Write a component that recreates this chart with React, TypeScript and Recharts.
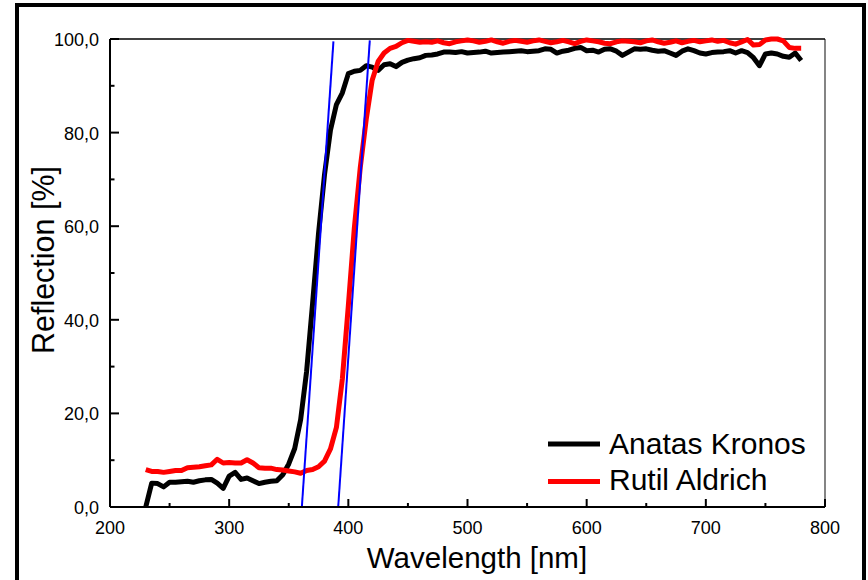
import { LineChart, Line, XAxis, YAxis, ReferenceLine } from 'recharts';

// wavelength grid (nm)
const wavelengths = [
  230, 235, 240, 245, 250, 255, 260, 265, 270, 275,
  280, 285, 290, 295, 300, 305, 310, 315, 320, 325,
  330, 335, 340, 345, 350, 355, 360, 365, 370, 375,
  380, 385, 390, 395, 400, 405, 410, 415, 420, 425,
  430, 435, 440, 445, 450, 455, 460, 465, 470, 475,
  480, 485, 490, 495, 500, 505, 510, 515, 520, 525,
  530, 535, 540, 545, 550, 555, 560, 565, 570, 575,
  580, 585, 590, 595, 600, 605, 610, 615, 620, 625,
  630, 635, 640, 645, 650, 655, 660, 665, 670, 675,
  680, 685, 690, 695, 700, 705, 710, 715, 720, 725,
  730, 735, 740, 745, 750, 755, 760, 765, 770, 775,
  780,
];

const anatasKronos = [
  0, 5.1, 5.0, 4.3, 5.3, 5.3, 5.4, 5.5, 5.3, 5.6,
  5.8, 5.9, 5.1, 4.0, 6.6, 7.4, 5.9, 6.2, 5.6, 5.0,
  5.3, 5.5, 5.6, 6.9, 9.2, 12.5, 18.7, 29.0, 43.5, 58.5,
  71.0, 80.5, 86.0, 88.5, 92.6, 93.1, 93.3, 94.3, 94.0, 93.3,
  94.5, 94.7, 94.1, 95.0, 95.5, 95.8, 96.0, 96.5, 96.6, 96.8,
  97.2, 97.2, 97.1, 97.3, 97.0, 97.1, 97.2, 97.4, 97.0, 97.1,
  97.2, 97.3, 97.4, 97.5, 97.3, 97.4, 97.5, 97.9, 97.8, 97.0,
  97.4, 97.6, 98.0, 98.2, 97.5, 97.6, 97.2, 97.8, 97.9, 97.4,
  96.5, 97.2, 97.9, 97.8, 97.9, 97.6, 97.4, 97.5, 97.0, 96.5,
  97.4, 97.9, 97.5, 97.0, 96.8, 97.1, 97.2, 97.3, 97.5, 97.0,
  97.5, 97.1, 96.0, 94.3, 96.8, 97.0, 96.8, 96.3, 96.1, 97.0,
  95.4,
];

const rutilAldrich = [
  8.0, 7.6, 7.6, 7.4, 7.6, 7.8, 7.8, 8.4, 8.5, 8.6,
  8.8, 9.0, 10.2, 9.4, 9.5, 9.4, 9.4, 10.1, 9.4, 8.4,
  8.3, 8.3, 8.0, 7.9, 7.7, 7.5, 7.2, 7.8, 8.0, 8.6,
  9.8, 12.4, 17.0, 27.4, 43.0, 59.5, 72.5, 82.8, 91.2, 95.2,
  97.0, 98.0, 98.4, 99.2, 99.7, 99.5, 99.3, 99.4, 99.3, 99.6,
  99.2, 99.0, 99.4, 99.6, 99.8, 99.6, 99.3, 99.5, 99.8, 99.4,
  99.1, 99.5, 99.7, 99.5, 99.3, 99.6, 99.8, 99.5, 99.2, 99.4,
  99.7, 99.4, 99.0, 99.5, 99.8, 99.6, 99.4, 99.1, 99.0, 99.4,
  99.6, 99.5, 99.4, 99.2, 99.6, 99.8, 99.4, 99.1, 99.3, 99.6,
  99.2, 99.5, 99.7, 99.4, 99.6, 99.8, 99.5, 99.7, 99.2, 98.9,
  99.4, 99.9, 98.7, 98.8, 99.8, 100, 100, 99.6, 98.2, 98.0,
  98.0,
];

// tangent lines at the absorption edges
const tangentAnatasWl = [361, 387.5];
const tangentAnatasR = [0, 99.5];
const tangentRutilWl = [391.5, 418];
const tangentRutilR = [0, 99.7];

const xTicks = [200, 250, 300, 350, 400, 450, 500, 550, 600, 650, 700, 750, 800];
const yTicks = [0, 10, 20, 30, 40, 50, 60, 70, 80, 90, 100];

const FONT = '"Liberation Sans", Arial, sans-serif';

const spectra = wavelengths.map((w, i) => ({
  w,
  anatas: anatasKronos[i],
  rutil: rutilAldrich[i],
}));
const tangentA = tangentAnatasWl.map((w, i) => ({ w, r: tangentAnatasR[i] }));
const tangentB = tangentRutilWl.map((w, i) => ({ w, r: tangentRutilR[i] }));

const YTick = (props: any) => {
  const { x, y, payload } = props;
  const v = payload.value as number;
  const major = v % 20 === 0;
  return (
    <g>
      <line x1={x} x2={x + (major ? 9 : 4.5)} y1={y} y2={y} stroke="#000" strokeWidth={2} />
      {major && (
        <text x={x - 11} y={y + 7} textAnchor="end" fontSize={18} fontFamily={FONT} fill="#000">
          {v.toFixed(1).replace('.', ',')}
        </text>
      )}
    </g>
  );
};

const XTick = (props: any) => {
  const { x, y, payload } = props;
  const v = payload.value as number;
  const major = v % 100 === 0;
  return (
    <g>
      <line x1={x} x2={x} y1={y} y2={y - (major ? 8 : 4)} stroke="#000" strokeWidth={2} />
      {major && (
        <text x={x} y={y + 26.5} textAnchor="middle" fontSize={18} fontFamily={FONT} fill="#000">
          {v}
        </text>
      )}
    </g>
  );
};

const LegendBox = () => (
  <svg width={280} height={80} style={{ display: 'block' }}>
    <line x1={8} x2={60} y1={19} y2={19} stroke="#000" strokeWidth={5} />
    <text x={69} y={28.5} fontSize={30} fontFamily={FONT} fill="#000">Anatas Kronos</text>
    <line x1={8} x2={60} y1={56.5} y2={56.5} stroke="#ff0000" strokeWidth={5} />
    <text x={69} y={65} fontSize={30} fontFamily={FONT} fill="#000">Rutil Aldrich</text>
  </svg>
);

export default function App() {
  return (
    <div
      style={{
        position: 'absolute',
        left: 0,
        top: 0,
        width: 868,
        height: 580,
        background: '#fff',
        overflow: 'hidden',
      }}
    >
      <div
        style={{
          position: 'absolute',
          left: 15,
          top: 3,
          width: 851,
          height: 600,
          boxSizing: 'border-box',
          border: '4px solid #000',
        }}
      />
      <div style={{ position: 'absolute', left: 0, top: 0 }}>
        <LineChart
          width={868}
          height={580}
          data={spectra}
          margin={{ top: 39, right: 43, bottom: 33, left: 40 }}
        >
          <XAxis
            dataKey="w"
            type="number"
            domain={[200, 800]}
            ticks={xTicks}
            interval={0}
            height={40}
            tickSize={0}
            tickMargin={0}
            tickLine={false}
            axisLine={{ stroke: '#000', strokeWidth: 2 }}
            tick={<XTick />}
            label={() => (
              <text x={477} y={568} textAnchor="middle" fontSize={29.5} fontFamily={FONT} fill="#000">
                Wavelength [nm]
              </text>
            )}
          />
          <YAxis
            type="number"
            domain={[0, 100]}
            ticks={yTicks}
            interval={0}
            width={70}
            tickSize={0}
            tickMargin={0}
            tickLine={false}
            axisLine={{ stroke: '#000', strokeWidth: 2 }}
            tick={<YTick />}
            label={() => (
              <text
                x={54}
                y={260}
                transform="rotate(-90 54 260)"
                textAnchor="middle"
                fontSize={30.5}
                fontFamily={FONT}
                fill="#000"
              >
                Reflection [%]
              </text>
            )}
          />
          <ReferenceLine x={800} stroke="#333" strokeWidth={1.2} />
          <ReferenceLine y={100} stroke="#000" strokeWidth={1.5} />
          <Line
            dataKey="anatas"
            name="Anatas Kronos"
            type="linear"
            stroke="#000"
            strokeWidth={5}
            dot={false}
            activeDot={false}
            strokeLinejoin="round"
            isAnimationActive={false}
          />
          <Line
            dataKey="rutil"
            name="Rutil Aldrich"
            type="linear"
            stroke="#ff0000"
            strokeWidth={5}
            dot={false}
            activeDot={false}
            strokeLinejoin="round"
            isAnimationActive={false}
          />
          <Line
            data={tangentA}
            dataKey="r"
            type="linear"
            stroke="#0000ff"
            strokeWidth={2}
            dot={false}
            activeDot={false}
            isAnimationActive={false}
          />
          <Line
            data={tangentB}
            dataKey="r"
            type="linear"
            stroke="#0000ff"
            strokeWidth={2}
            dot={false}
            activeDot={false}
            isAnimationActive={false}
          />
        </LineChart>
      </div>
      <div style={{ position: 'absolute', left: 540, top: 425 }}>
        <LegendBox />
      </div>
    </div>
  );
}
